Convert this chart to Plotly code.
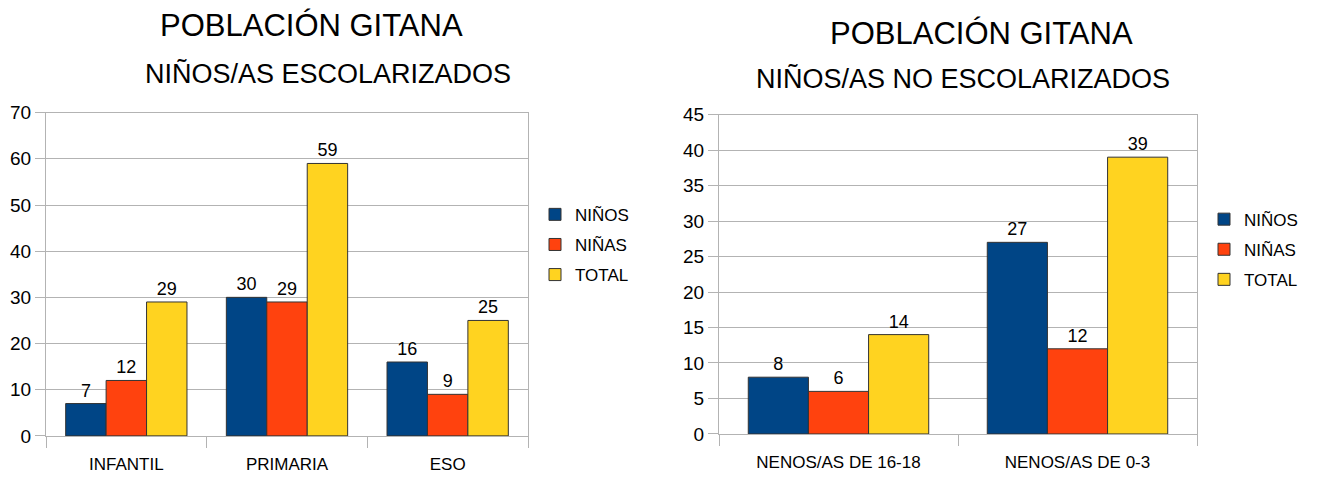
import plotly.graph_objects as go

W, H = 1318, 480

# Left chart data
cats_left = ["INFANTIL", "PRIMARIA", "ESO"]
ninos_left = [7, 30, 16]
ninas_left = [12, 29, 9]
total_left = [29, 59, 25]

# Right chart data
cats_right = ["NENOS/AS DE 16-18", "NENOS/AS DE 0-3"]
ninos_right = [8, 27]
ninas_right = [6, 12]
total_right = [14, 39]

series_names = ["NIÑOS", "NIÑAS", "TOTAL"]
colors = ["#004586", "#ff420e", "#ffd320"]

FONT = "Liberation Sans, Arial, sans-serif"
GRID = "#b3b3b3"

fig = go.Figure()

for name, vals, col in zip(series_names, [ninos_left, ninas_left, total_left], colors):
    fig.add_trace(go.Bar(
        x=cats_left, y=vals, name=name, marker=dict(color=col, line=dict(color="#333333", width=1)),
        text=vals, textposition="outside", textfont=dict(size=18, color="#000000", family=FONT),
        cliponaxis=False, xaxis="x", yaxis="y", legend="legend", legendgroup="l" + name,
    ))

for name, vals, col in zip(series_names, [ninos_right, ninas_right, total_right], colors):
    fig.add_trace(go.Bar(
        x=cats_right, y=vals, name=name, marker=dict(color=col, line=dict(color="#333333", width=1)),
        text=vals, textposition="outside", textfont=dict(size=18, color="#000000", family=FONT),
        cliponaxis=False, xaxis="x2", yaxis="y2", legend="legend2", legendgroup="r" + name,
    ))

def px_x(a, b):
    return [a / W, b / W]

def px_y(top, bottom):
    return [(H - bottom) / H, (H - top) / H]

def line_common():
    return dict(showline=True, mirror=True, linecolor=GRID, linewidth=1)

fig.update_layout(
    width=W, height=H,
    margin=dict(l=0, r=0, t=0, b=0),
    paper_bgcolor="white", plot_bgcolor="white",
    font=dict(family=FONT, color="#000000"),
    barmode="group", bargap=0.245, bargroupgap=0,
    xaxis=dict(domain=px_x(38, 520), anchor="y", type="category",
               tickson="boundaries", ticks="outside", ticklen=11, tickcolor=GRID,
               ticklabelstandoff=13, tickfont=dict(size=17, color="#000000", family=FONT),
               showgrid=False, **line_common()),
    yaxis=dict(domain=px_y(99, 437), anchor="x", range=[0, 70], dtick=10,
               ticks="outside", ticklen=10, tickcolor=GRID,
               tickfont=dict(size=19, color="#000000", family=FONT),
               showgrid=True, gridcolor=GRID, zeroline=False, **line_common()),
    xaxis2=dict(domain=px_x(711, 1189), anchor="y2", type="category",
                tickson="boundaries", ticks="outside", ticklen=11, tickcolor=GRID,
                ticklabelstandoff=13, tickfont=dict(size=17, color="#000000", family=FONT),
                showgrid=False, **line_common()),
    yaxis2=dict(domain=px_y(101, 435), anchor="x2", range=[0, 45], dtick=5,
                ticks="outside", ticklen=10, tickcolor=GRID,
                tickfont=dict(size=19, color="#000000", family=FONT),
                showgrid=True, gridcolor=GRID, zeroline=False, **line_common()),
    legend=dict(x=527 / W, y=1 - 187 / H, xanchor="left", yanchor="top",
                font=dict(size=17, family=FONT, color="#000000"),
                tracegroupgap=5, bgcolor="rgba(0,0,0,0)"),
    legend2=dict(x=1196 / W, y=1 - 192 / H, xanchor="left", yanchor="top",
                 font=dict(size=17, family=FONT, color="#000000"),
                 tracegroupgap=5, bgcolor="rgba(0,0,0,0)"),
    annotations=[
        dict(text="POBLACIÓN GITANA", x=303 / W, y=1 - 8 / H, xref="paper", yref="paper",
             showarrow=False, font=dict(size=31, family=FONT, color="#000000"), xanchor="center", yanchor="middle"),
        dict(text="NIÑOS/AS ESCOLARIZADOS", x=320 / W, y=1 - 58 / H, xref="paper", yref="paper",
             showarrow=False, font=dict(size=27, family=FONT, color="#000000"), xanchor="center", yanchor="middle"),
        dict(text="POBLACIÓN GITANA", x=973 / W, y=1 - 16 / H, xref="paper", yref="paper",
             showarrow=False, font=dict(size=31, family=FONT, color="#000000"), xanchor="center", yanchor="middle"),
        dict(text="NIÑOS/AS NO ESCOLARIZADOS", x=955 / W, y=1 - 63 / H, xref="paper", yref="paper",
             showarrow=False, font=dict(size=27, family=FONT, color="#000000"), xanchor="center", yanchor="middle"),
    ],
)

fig.write_html("out.html")
